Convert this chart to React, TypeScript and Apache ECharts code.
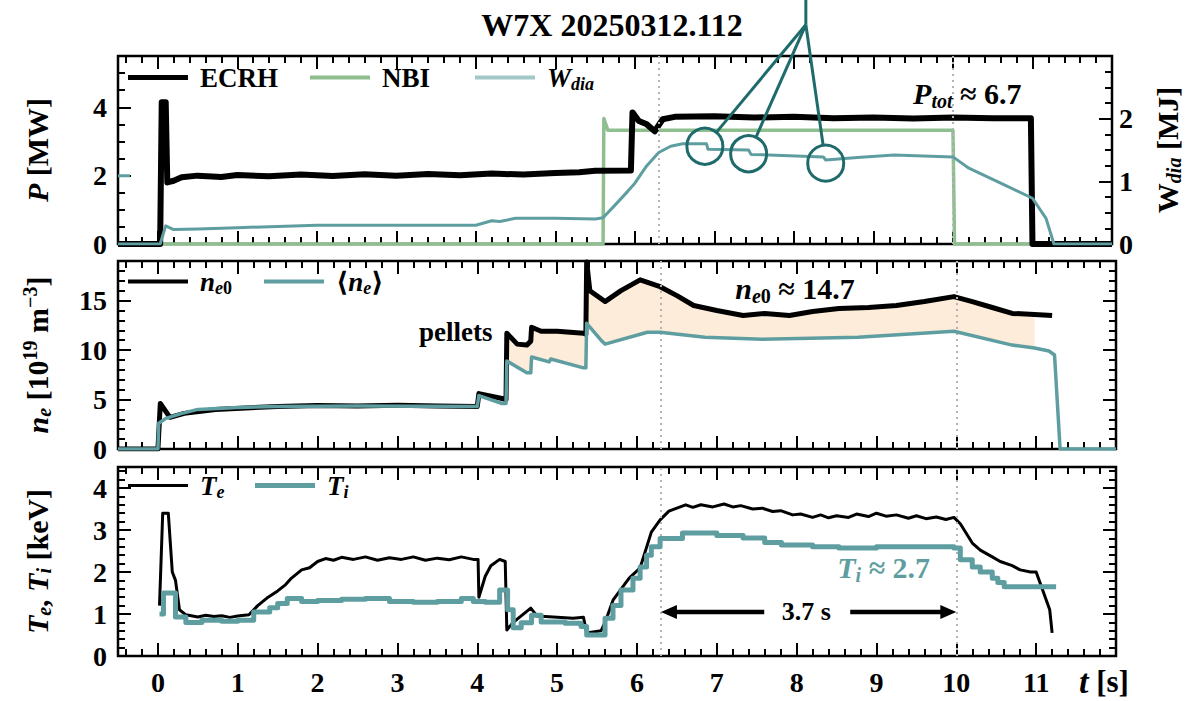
import React, { useEffect, useRef } from "react";
import * as echarts from "echarts";

const FONT = '"Liberation Serif", "DejaVu Serif", serif';
const TEAL = "#5f9ea0";
const TEAL_LIGHT = "#a3c8c8";
const GREEN = "#8fbf8f";
const DARK_TEAL = "#1f6a6a";
const FILL = "#fdecd9";

// ---------- axes ----------
const T_MIN = -0.5;
const T_MAX = 12;
const T_TICKS = [0, 1, 2, 3, 4, 5, 6, 7, 8, 9, 10, 11, 12];
const T_LABELS = [0, 1, 2, 3, 4, 5, 6, 7, 8, 9, 10, 11];
const T_MINOR: number[] = [];
for (let k = -2; k <= 60; k++) if (k % 5 !== 0) T_MINOR.push(Math.round(k * 2) / 10);

const P_MAX = 5.5;
const P_TICKS = [0, 2, 4];
const P_MINOR = [0.5, 1, 1.5, 2.5, 3, 3.5, 4.5, 5];
const W_MAX = 3;
const W_TICKS = [0, 1, 2, 3];
const W_LABELS = [0, 1, 2];
const W_MINOR = [0.25, 0.5, 0.75, 1.25, 1.5, 1.75, 2.25, 2.5, 2.75];
const N_MAX = 19;
const N_TICKS = [0, 5, 10, 15];
const N_MINOR = [1, 2, 3, 4, 6, 7, 8, 9, 11, 12, 13, 14, 16, 17, 18];
const TE_MAX = 4.5;
const TE_TICKS = [0, 1, 2, 3, 4];
const TE_MINOR = [0.2, 0.4, 0.6, 0.8, 1.2, 1.4, 1.6, 1.8, 2.2, 2.4, 2.6, 2.8, 3.2, 3.4, 3.6, 3.8, 4.2, 4.4];

// ---------- data ----------
const ECRH = [
  [-0.5, 0], [0.03, 0], [0.05, 4.15], [0.1, 4.15], [0.12, 1.8], [0.2, 1.85], [0.3, 1.95], [0.5, 2.0],
  [0.8, 1.96], [1.0, 2.02], [1.4, 1.98], [1.8, 2.03], [2.2, 1.99], [2.6, 2.04], [3.0, 2.0], [3.4, 2.05],
  [3.8, 2.01], [4.2, 2.06], [4.6, 2.03], [5.0, 2.08], [5.3, 2.1], [5.5, 2.14], [5.95, 2.15],
  [5.97, 3.85], [6.05, 3.6], [6.15, 3.5], [6.25, 3.3], [6.35, 3.65], [6.5, 3.72], [7.0, 3.74],
  [7.5, 3.7], [8.0, 3.72], [8.5, 3.68], [9.0, 3.7], [9.5, 3.67], [10.0, 3.7], [10.5, 3.68],
  [10.98, 3.68], [11.0, 0], [12, 0],
];
const NBI = [[-0.5, 0], [5.6, 0], [5.61, 3.67], [5.66, 3.33], [10.0, 3.33], [10.02, 0], [12, 0]];
const WDIA = [
  [-0.5, 0], [0.03, 0], [0.1, 0.29], [0.2, 0.23], [0.5, 0.24], [1, 0.26], [2, 0.3], [3, 0.3],
  [4.0, 0.3], [4.2, 0.37], [4.3, 0.36], [4.5, 0.41], [5.0, 0.41], [5.5, 0.4], [5.6, 0.42],
  [5.75, 0.62], [5.91, 0.84], [6.0, 0.97], [6.15, 1.25], [6.3, 1.46], [6.45, 1.56], [6.6, 1.6],
  [6.9, 1.6], [6.92, 1.51], [7.43, 1.5], [7.46, 1.43], [8.37, 1.39], [8.4, 1.34], [8.8, 1.38],
  [9.26, 1.42], [10.0, 1.39], [10.2, 1.21], [10.6, 0.97], [11.0, 0.73], [11.17, 0.41], [11.27, 0],
  [12, 0],
];
const WDIA_STUB = [[-0.5, 2], [-0.35, 2]];

const NE0 = [
  [-0.5, 0], [0.0, 0], [0.01, 1.5], [0.03, 4.6], [0.15, 3.2], [0.33, 3.6], [0.72, 4.0], [1.5, 4.3],
  [2, 4.4], [2.5, 4.35], [3, 4.42], [3.5, 4.35], [4.0, 4.3], [4.02, 5.6], [4.31, 5.1], [4.36, 5.0],
  [4.37, 11.7], [4.5, 10.6], [4.62, 10.5], [4.67, 10.9], [4.68, 12.3], [4.8, 11.9], [5.0, 11.9],
  [5.33, 11.7], [5.36, 11.6], [5.37, 18.9], [5.41, 16.0], [5.6, 14.9], [5.8, 16.0], [6.04, 17.1],
  [6.29, 16.4], [6.5, 15.5], [6.71, 14.5], [7.0, 14.0], [7.33, 13.5], [7.6, 13.7], [7.91, 13.5],
  [8.2, 13.9], [8.53, 14.2], [8.9, 14.3], [9.25, 14.5], [9.6, 14.9], [9.97, 15.4], [10.2, 14.9],
  [10.45, 14.3], [10.7, 13.7], [10.98, 13.6], [11.2, 13.5],
];
const NE_AVG = [
  [-0.5, 0], [0.0, 0], [0.01, 2.6], [0.1, 3.1], [0.3, 3.6], [0.5, 4.0], [1, 4.2], [1.5, 4.3],
  [2.5, 4.35], [4.0, 4.3], [4.02, 5.4], [4.31, 4.6], [4.36, 4.6], [4.37, 8.9], [4.62, 7.7],
  [4.67, 7.7], [4.68, 9.3], [4.9, 8.8], [4.92, 9.1], [5.33, 8.2], [5.36, 8.2], [5.37, 12.7],
  [5.55, 11.0], [5.6, 10.6], [6.13, 11.8], [6.29, 11.8], [6.85, 11.3], [7.57, 11.1], [8.77, 11.3],
  [9.97, 11.9], [10.7, 10.5], [10.98, 10.2], [11.16, 9.9], [11.23, 9.5], [11.3, 0], [12, 0],
];
const FILL_START = 4.37;
const FILL_END = 10.98;

const TE = [
  [0.02, 1.2], [0.06, 3.4], [0.13, 3.4], [0.18, 2.0], [0.22, 1.8], [0.27, 1.1], [0.35, 0.98], [0.5, 0.93],
  [0.6, 0.97], [0.7, 0.94], [0.8, 0.96], [0.9, 0.92], [1.0, 0.95], [1.14, 0.98], [1.25, 1.2], [1.38, 1.4],
  [1.5, 1.55], [1.6, 1.7], [1.67, 1.85], [1.8, 2.05], [1.9, 2.1], [2.0, 2.25], [2.1, 2.32], [2.2, 2.28],
  [2.3, 2.35], [2.45, 2.3], [2.6, 2.36], [2.75, 2.28], [2.9, 2.34], [3.05, 2.3], [3.2, 2.36], [3.35, 2.28],
  [3.5, 2.33], [3.65, 2.29], [3.8, 2.36], [3.95, 2.3], [4.01, 2.3], [4.02, 1.4], [4.1, 1.9], [4.17, 2.15],
  [4.28, 2.3], [4.35, 2.25], [4.37, 0.62], [4.45, 0.8], [4.67, 1.14], [4.75, 0.95], [5.0, 0.92],
  [5.2, 0.9], [5.33, 0.92], [5.37, 0.55], [5.55, 0.6], [5.6, 0.8], [5.7, 1.33], [5.9, 1.85], [6.04, 2.1],
  [6.18, 2.95], [6.29, 3.24], [6.4, 3.45], [6.5, 3.52], [6.61, 3.6], [6.7, 3.54], [6.8, 3.6],
  [6.95, 3.55], [7.09, 3.62], [7.2, 3.55], [7.3, 3.58], [7.45, 3.5], [7.57, 3.52], [7.7, 3.44],
  [7.8, 3.46], [7.95, 3.36], [8.05, 3.38], [8.2, 3.3], [8.3, 3.36], [8.4, 3.29], [8.5, 3.34],
  [8.65, 3.3], [8.75, 3.38], [8.9, 3.32], [9.0, 3.4], [9.12, 3.33], [9.25, 3.36], [9.4, 3.28],
  [9.5, 3.34], [9.62, 3.27], [9.75, 3.31], [9.87, 3.25], [9.97, 3.3], [10.05, 3.15], [10.2, 2.69],
  [10.3, 2.52], [10.45, 2.36], [10.55, 2.25], [10.7, 2.15], [10.8, 2.05], [10.93, 2.0], [11.0, 2.0],
  [11.17, 1.1], [11.2, 0.55],
];
const TI = [
  [0.02, 1.0], [0.07, 1.5], [0.22, 0.93], [0.35, 0.8], [0.55, 0.85], [0.8, 0.83], [1.0, 0.85],
  [1.2, 1.05], [1.4, 1.15], [1.5, 1.25], [1.62, 1.37], [1.8, 1.3], [2.0, 1.32], [2.3, 1.35],
  [2.6, 1.37], [2.9, 1.3], [3.2, 1.28], [3.5, 1.3], [3.8, 1.37], [3.95, 1.3], [4.1, 1.28],
  [4.28, 1.57], [4.38, 1.1], [4.45, 0.67], [4.55, 0.79], [4.68, 0.97], [4.8, 0.81], [5.1, 0.78],
  [5.3, 0.7], [5.37, 0.5], [5.6, 0.9], [5.7, 1.2], [5.8, 1.57], [5.95, 1.85], [6.04, 2.12],
  [6.12, 2.4], [6.18, 2.6], [6.29, 2.8], [6.57, 2.93], [7.0, 2.87], [7.33, 2.81], [7.6, 2.7],
  [7.81, 2.64], [8.2, 2.6], [8.53, 2.57], [9.0, 2.6], [9.49, 2.6], [9.97, 2.57], [10.05, 2.29],
  [10.2, 2.12], [10.3, 2.0], [10.45, 1.85], [10.52, 1.75], [10.6, 1.65], [11.25, 1.65],
];
const MARK_TIMES = [6.3, 10.0];

// ---------- styles ----------
const rich = (size: number, color = "#000") => ({
  b: { fontFamily: FONT, fontWeight: "bold", fontSize: size, lineHeight: size + 4, color },
  i: { fontFamily: FONT, fontWeight: "bold", fontStyle: "italic", fontSize: size, lineHeight: size + 4, color },
  sub: { fontFamily: FONT, fontWeight: "bold", fontStyle: "italic", fontSize: Math.round(size * 0.68), verticalAlign: "bottom", color },
  subu: { fontFamily: FONT, fontWeight: "bold", fontSize: Math.round(size * 0.68), verticalAlign: "bottom", color },
  sup: { fontFamily: FONT, fontWeight: "bold", fontSize: Math.round(size * 0.68), verticalAlign: "top", color },
  g: { width: 7 },
});

const LABEL = { color: "#000", fontFamily: FONT, fontWeight: "bold", fontSize: 28 };
const TICK_LINE = { color: "#000", width: 2 };
const NO_LINE = { show: false, onZero: false };

function xAxesFor(grid: number, labels: boolean) {
  const base = {
    type: "value", gridIndex: grid, min: T_MIN, max: T_MAX,
    splitLine: { show: false }, axisLine: NO_LINE, axisPointer: { show: false },
  };
  const major = (position: string, withLabels: boolean) => ({
    ...base, position,
    axisTick: { show: true, inside: true, length: 13, lineStyle: TICK_LINE, customValues: T_TICKS },
    axisLabel: withLabels ? { show: true, ...LABEL, margin: 12, customValues: T_LABELS } : { show: false },
  });
  const minor = (position: string) => ({
    ...base, position,
    axisTick: { show: true, inside: true, length: 7, lineStyle: TICK_LINE, customValues: T_MINOR },
    axisLabel: { show: false },
  });
  return [major("bottom", labels), minor("bottom"), major("top", false), minor("top")];
}

function yAxesFor(grid: number, position: string, max: number, ticks: number[], minors: number[], labels: number[] | null, extra: any = {}) {
  const base = {
    type: "value", gridIndex: grid, position, min: 0, max,
    splitLine: { show: false }, axisLine: NO_LINE, axisPointer: { show: false },
  };
  return [
    {
      ...base, ...extra,
      axisTick: { show: true, inside: true, length: 13, lineStyle: TICK_LINE, customValues: ticks },
      axisLabel: labels ? { show: true, ...LABEL, margin: position === "left" ? 11 : 7, customValues: labels } : { show: false },
    },
    {
      ...base,
      axisTick: { show: true, inside: true, length: 7, lineStyle: TICK_LINE, customValues: minors },
      axisLabel: { show: false },
    },
  ];
}

const LEGEND_TEXT: Record<string, string> = {
  ECRH: "{g|}{b|ECRH}",
  NBI: "{g|}{b|NBI}",
  Wdia: "{g|}{i|W}{sub|dia}",
  ne0: "{g|}{i|n}{sub|e}{subu|0}",
  ne: "{g|}{b|⟨}{i|n}{sub|e}{b|⟩}",
  Te: "{g|}{i|T}{sub|e}",
  Ti: "{g|}{i|T}{sub|i}",
};

function legendFor(name: string, left: number, top: number, h: number, color?: string) {
  return {
    show: true, left, top, padding: 0, itemWidth: 60, itemHeight: h, icon: "rect",
    selectedMode: false,
    data: [color ? { name, itemStyle: { color } } : { name }],
    formatter: (n: string) => LEGEND_TEXT[n] || n,
    textStyle: { rich: rich(27) },
  };
}

const markLine = {
  silent: true, symbol: ["none", "none"], label: { show: false },
  lineStyle: { type: [2, 4], color: "#b4b4b4", width: 2 },
  data: MARK_TIMES.map((t) => ({ xAxis: t })),
};

const lineSeries = (name: string, data: number[][], xi: number, yi: number, color: string, width: number, extra: any = {}) => ({
  name, type: "line", data, xAxisIndex: xi, yAxisIndex: yi, showSymbol: false, symbol: "none",
  lineStyle: { color, width, join: "round" }, itemStyle: { color }, ...extra,
});

const NAME_STYLE = { rich: rich(30) };

export default function App() {
  const ref = useRef<HTMLDivElement>(null);
  useEffect(() => {
    if (!ref.current) return;
    const chart = echarts.init(ref.current, null, { renderer: "svg" });
    const option: any = {
      animation: false,
      backgroundColor: "#fff",
      textStyle: { fontFamily: FONT },
      grid: [
        { left: 118, top: 56, width: 998, height: 188, show: true, borderColor: "#000", borderWidth: 2.5 },
        { left: 118, top: 261, width: 998, height: 188, show: true, borderColor: "#000", borderWidth: 2.5 },
        { left: 118, top: 467, width: 998, height: 189, show: true, borderColor: "#000", borderWidth: 2.5 },
      ],
      xAxis: [...xAxesFor(0, false), ...xAxesFor(1, false), ...xAxesFor(2, true)],
      yAxis: [
        ...yAxesFor(0, "left", P_MAX, P_TICKS, P_MINOR, P_TICKS, {
          name: "{i|P}{b| [MW]}", nameLocation: "middle", nameRotate: 90, nameGap: 64,
          nameTextStyle: NAME_STYLE,
        }),
        ...yAxesFor(0, "right", W_MAX, W_TICKS, W_MINOR, W_LABELS, {
          name: "{b|W}{sub|dia}{b| [MJ]}", nameLocation: "middle", nameRotate: 90, nameGap: 38,
          nameTextStyle: NAME_STYLE,
        }),
        ...yAxesFor(1, "left", N_MAX, N_TICKS, N_MINOR, N_TICKS, {
          name: "{i|n}{sub|e}{b| [10}{sup|19}{b| m}{sup|−3}{b|]}", nameLocation: "middle", nameRotate: 90, nameGap: 64,
          nameTextStyle: NAME_STYLE,
        }),
        ...yAxesFor(1, "right", N_MAX, N_TICKS, N_MINOR, null),
        ...yAxesFor(2, "left", TE_MAX, TE_TICKS, TE_MINOR, TE_TICKS, {
          name: "{i|T}{sub|e}{b|, }{i|T}{sub|i}{b| [keV]}", nameLocation: "middle", nameRotate: 90, nameGap: 64,
          nameTextStyle: NAME_STYLE,
        }),
        ...yAxesFor(2, "right", TE_MAX, TE_TICKS, TE_MINOR, null),
      ],
      legend: [
        legendFor("ECRH", 128, 64, 5),
        legendFor("NBI", 310, 64, 4),
        legendFor("Wdia", 475, 64, 4, TEAL_LIGHT),
        legendFor("ne0", 128, 268, 4),
        legendFor("ne", 264, 268, 4),
        legendFor("Te", 128, 472, 3),
        legendFor("Ti", 255, 472, 5),
      ],
      series: [
        lineSeries("ECRH", ECRH, 0, 0, "#000", 6, { z: 4 }),
        lineSeries("NBI", NBI, 0, 0, GREEN, 3.5, { z: 3, markLine }),
        lineSeries("Wdia", WDIA, 0, 2, TEAL, 3, { z: 5 }),
        lineSeries("WdiaStub", WDIA_STUB, 0, 0, TEAL, 3, { z: 5 }),
        {
          name: "fill", type: "custom", xAxisIndex: 4, yAxisIndex: 4, z: 1, silent: true,
          data: [[FILL_START, 0]],
          renderItem: (_p: any, api: any) => {
            const upper = NE0.filter((p) => p[0] >= FILL_START && p[0] <= FILL_END);
            const lower = NE_AVG.filter((p) => p[0] >= FILL_START && p[0] <= FILL_END).reverse();
            const pts = [...upper, ...lower].map((p) => api.coord(p));
            return { type: "polygon", shape: { points: pts }, style: { fill: FILL } };
          },
        },
        lineSeries("ne0", NE0, 4, 4, "#000", 5, { z: 4 }),
        lineSeries("ne", NE_AVG, 4, 4, TEAL, 3.5, { z: 5, markLine }),
        lineSeries("Te", TE, 8, 8, "#000", 3, { z: 4, markLine }),
        lineSeries("Ti", TI, 8, 8, TEAL, 5, { z: 5, step: "end" }),
      ],
    };
    chart.setOption(option);

    const P = (t: number, v: number) => chart.convertToPixel({ seriesIndex: 0 }, [t, v]) as number[];
    const W = (t: number, v: number) => chart.convertToPixel({ seriesIndex: 2 }, [t, v]) as number[];
    const N = (t: number, v: number) => chart.convertToPixel({ seriesIndex: 5 }, [t, v]) as number[];
    const T = (t: number, v: number) => chart.convertToPixel({ seriesIndex: 7 }, [t, v]) as number[];

    const g: any[] = [];
    const text = (x: number, y: number, str: string, size: number, color = "#000", align = "center") =>
      g.push({
        type: "text", x, y, z: 20,
        style: { text: str, rich: rich(size, color), align, verticalAlign: "middle", fill: color, font: `bold ${size}px ${FONT}` },
      });

    // title
    text(612, 25, "{b|W7X 20250312.112}", 32);
    // t [s]
    g.push({
      type: "text", x: 1079, y: 681, z: 20,
      style: {
        text: "{ti|t}{tb| [s]}", align: "left", verticalAlign: "middle",
        rich: {
          ti: { fontFamily: FONT, fontWeight: "bold", fontStyle: "italic", fontSize: 34, lineHeight: 36, fill: "#000" },
          tb: { fontFamily: FONT, fontWeight: "bold", fontSize: 31, lineHeight: 36, fill: "#000" },
        },
      },
    });

    // annotations
    const pt = P(10.18, 4.4);
    text(pt[0], pt[1], "{i|P}{sub|tot}{b| ≈ 6.7}", 30);
    const pn = N(7.98, 16.2);
    text(pn[0], pn[1], "{i|n}{sub|e}{subu|0}{b| ≈ 14.7}", 30);
    const pp = N(3.73, 11.8);
    text(pp[0], pp[1], "{b|pellets}", 27);
    const pti = T(9.09, 2.1);
    text(pti[0], pti[1], "{i|T}{sub|i}{b| ≈ 2.7}", 30, TEAL);

    // 3.7 s arrow
    const a0 = T(6.3, 1.05);
    const a1 = T(10.0, 1.05);
    const ac = T(8.12, 1.05);
    const ah = 16;
    const aw = 7;
    g.push({ type: "line", z: 20, shape: { x1: a0[0] + ah - 2, y1: a0[1], x2: ac[0] - 42, y2: a0[1] }, style: { stroke: "#000", lineWidth: 4.5 } });
    g.push({ type: "line", z: 20, shape: { x1: ac[0] + 44, y1: a1[1], x2: a1[0] - ah + 2, y2: a1[1] }, style: { stroke: "#000", lineWidth: 4.5 } });
    g.push({ type: "polygon", z: 20, shape: { points: [[a0[0], a0[1]], [a0[0] + ah, a0[1] - aw], [a0[0] + ah, a0[1] + aw]] }, style: { fill: "#000" } });
    g.push({ type: "polygon", z: 20, shape: { points: [[a1[0], a1[1]], [a1[0] - ah, a1[1] - aw], [a1[0] - ah, a1[1] + aw]] }, style: { fill: "#000" } });
    text(ac[0], ac[1], "{b|3.7 s}", 26);

    // circles and pointer lines
    const hub = W(8.15, 3.5);
    const R = 18;
    const circles = [W(6.88, 1.56), W(7.43, 1.44), W(8.4, 1.29)];
    g.push({ type: "line", z: 20, shape: { x1: hub[0], y1: 0, x2: hub[0], y2: hub[1] }, style: { stroke: DARK_TEAL, lineWidth: 3 } });
    circles.forEach((c) => {
      g.push({ type: "circle", z: 20, shape: { cx: c[0], cy: c[1], r: R }, style: { fill: "none", stroke: DARK_TEAL, lineWidth: 3 } });
      const dx = hub[0] - c[0];
      const dy = hub[1] - c[1];
      const len = Math.sqrt(dx * dx + dy * dy);
      g.push({
        type: "line", z: 20,
        shape: { x1: c[0] + (dx / len) * R, y1: c[1] + (dy / len) * R, x2: hub[0], y2: hub[1] },
        style: { stroke: DARK_TEAL, lineWidth: 3 },
      });
    });

    chart.setOption({ graphic: g });
    return () => chart.dispose();
  }, []);
  return <div ref={ref} style={{ position: "fixed", left: 0, top: 0, width: 1192, height: 701 }} />;
}
